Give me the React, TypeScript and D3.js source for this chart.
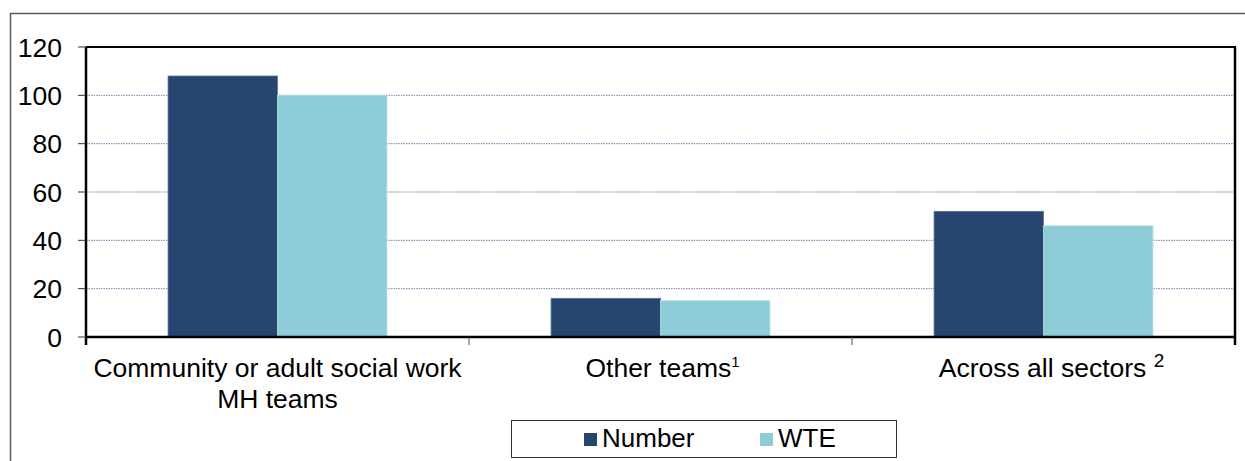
import React from "react";
import * as d3 from "d3";

const categories = ["Community or adult social work|MH teams", "Other teams", "Across all sectors"];
const superscripts = ["", "1", "2"];
const seriesNames = ["Number", "WTE"];
const numberValues = [108, 16, 52];
const wteValues = [100, 15, 46];
const yTicks = [0, 20, 40, 60, 80, 100, 120];
const colors = ["#26466F", "#8ECDD7"];

const W = 1245;
const H = 461;
const FONT = "Arial, 'Liberation Sans', Helvetica, sans-serif";

export default function App() {
  const left = 86, right = 1235, top = 47, bottom = 337;
  const x = d3.scaleBand<string>().domain(categories).range([left, right]).padding(0);
  const inner = d3.scaleBand<string>().domain(seriesNames).range([0, x.bandwidth()]).paddingInner(0).paddingOuter(0.75);
  const y = d3.scaleLinear().domain([0, 120]).range([bottom, top]);
  const series = [numberValues, wteValues];

  return (
    <svg width={W} height={H} style={{ position: "absolute", left: 0, top: 0, display: "block", background: "#fff" }} fontFamily={FONT}>
      {/* outer frame */}
      <line x1={10} y1={13.5} x2={W} y2={13.5} stroke="#595959" strokeWidth={1.5} />
      <line x1={10.5} y1={13} x2={10.5} y2={H} stroke="#595959" strokeWidth={1.5} />

      {/* gridlines */}
      {yTicks.filter((t) => t > 0 && t < 120).map((t) => (
        <line key={"g" + t} x1={left} x2={right} y1={y(t)} y2={y(t)} stroke="#8080b8" strokeWidth={1} strokeDasharray="1.5,1" />
      ))}

      {/* bars */}
      {categories.map((c, i) =>
        seriesNames.map((s, j) => {
          const v = series[j][i];
          return (
            <rect
              key={c + s}
              x={(x(c) as number) + (inner(s) as number)}
              y={y(v)}
              width={inner.bandwidth()}
              height={y(0) - y(v)}
              fill={colors[j]}
              stroke={j === 0 ? "#5a7296" : "#b0dde4"}
              strokeWidth={0.8}
            />
          );
        })
      )}

      {/* plot frame */}
      <line x1={left} x2={right + 1} y1={top} y2={top} stroke="#000" strokeWidth={2} />
      <line x1={right} x2={right} y1={top} y2={bottom + 8} stroke="#000" strokeWidth={2.5} />
      <line x1={left} x2={left} y1={top} y2={bottom + 8} stroke="#000" strokeWidth={2.5} />
      <line x1={left - 1} x2={right} y1={bottom} y2={bottom} stroke="#000" strokeWidth={2.5} />

      {/* y ticks */}
      {yTicks.map((t) => (
        <g key={"t" + t}>
          <line x1={left - 8} x2={left} y1={y(t)} y2={y(t)} stroke="#333" strokeWidth={1} />
          <text x={62} y={y(t) + 9.5} textAnchor="end" fontSize={26.5} fill="#000">
            {t}
          </text>
        </g>
      ))}

      {/* x ticks */}
      {categories.slice(1).map((c) => (
        <line key={"xt" + c} x1={x(c)} x2={x(c)} y1={bottom} y2={bottom + 8} stroke="#555" strokeWidth={1} />
      ))}

      {/* category labels */}
      {categories.map((c, i) => {
        const cx = (x(c) as number) + x.bandwidth() / 2;
        const lines = c.split("|");
        const sup = superscripts[i];
        const tx = i === 2 ? cx + 8 : cx + (lines.length > 1 ? 0 : 2);
        return (
          <text key={"l" + c} x={tx} y={377} textAnchor="middle" fontSize={26.5} fill="#000">
            {lines.map((ln, k) => (
              <tspan key={k} x={tx} dy={k === 0 ? 0 : 31}>
                {ln}
                {sup && k === lines.length - 1 ? (i === 2 ? " " : "") : ""}
                {sup && k === lines.length - 1 ? (
                  <tspan fontSize={i === 2 ? 19 : 15} dy={-10}>{sup}</tspan>
                ) : null}
              </tspan>
            ))}
          </text>
        );
      })}

      {/* legend */}
      <rect x={511.5} y={420.5} width={385} height={37} fill="#fff" stroke="#333" strokeWidth={1} />
      {seriesNames.map((s, j) => {
        const lx = j === 0 ? 584 : 760;
        return (
          <g key={"lg" + s}>
            <rect x={lx} y={433} width={13} height={13} fill={colors[j]} />
            <text x={lx + 18} y={446.5} fontSize={26} fill="#000">
              {s}
            </text>
          </g>
        );
      })}
    </svg>
  );
}
